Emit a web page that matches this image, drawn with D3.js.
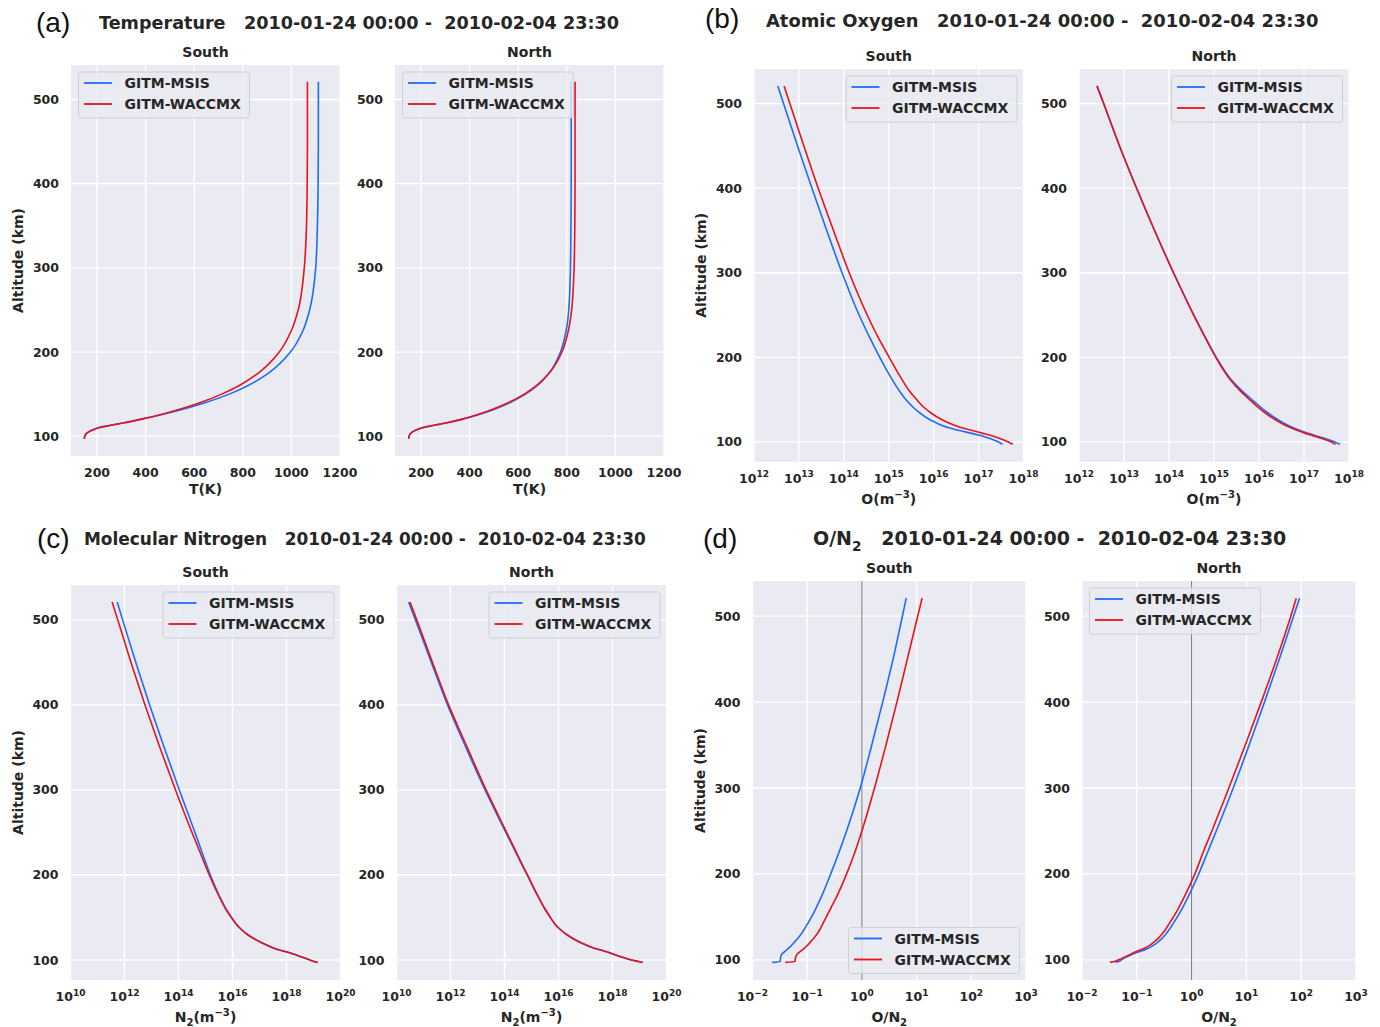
<!DOCTYPE html>
<meta charset="utf-8">
<style>
  body { margin: 0; background: #fff; }
  text { font-family: "DejaVu Sans", sans-serif; fill: #262626; }
  .tick { font-size: 12.5px; font-weight: bold; }
  .lab { font-size: 14px; font-weight: bold; }
  .title { font-weight: bold; }
  .letter { font-family: "Liberation Sans", Arial, sans-serif; font-size: 28px; fill: #111; }
  .leg { font-size: 14px; font-weight: bold; }
</style>
<body>
<script src="https://d3js.org/d3.v7.min.js"></script>
<script>

// altitude grid (km)
var alt = [97, 98, 100, 103, 106, 108, 110, 113, 116, 120, 125, 130, 135, 140, 150, 160, 175, 200, 225, 250, 300, 350, 400, 450, 500, 521];

// (a) temperature, K
var tSouthMsis   = [148, 148, 150, 155, 170, 185, 205, 255, 310, 375, 456, 527, 591, 648, 744, 820, 906, 996, 1047, 1075, 1100, 1107, 1110, 1111, 1111, 1111];
var tSouthWaccmx = [148, 148, 150, 155, 172, 188, 208, 258, 315, 380, 452, 516, 574, 626, 713, 784, 864, 950, 999, 1028, 1053, 1062, 1065, 1066, 1066, 1066];
var tNorthMsis   = [150, 150, 151, 156, 170, 185, 205, 255, 310, 370, 430, 483, 528, 567, 630, 678, 727, 774, 797, 808, 815, 817, 818, 818, 818, 818];
var tNorthWaccmx = [150, 150, 151, 156, 170, 185, 205, 252, 305, 365, 424, 476, 521, 561, 625, 675, 728, 780, 806, 820, 830, 833, 834, 834, 834, 834];

// (b) atomic oxygen, log10(m^-3)
var oSouthMsis   = [17.53, 17.5, 17.43, 17.3, 17.13, 17.0, 16.85, 16.6, 16.38, 16.16, 15.96, 15.8, 15.67, 15.56, 15.38, 15.24, 15.06, 14.8, 14.56, 14.34, 13.96, 13.62, 13.29, 12.97, 12.66, 12.53];
var oSouthWaccmx = [17.76, 17.72, 17.65, 17.52, 17.36, 17.24, 17.1, 16.88, 16.67, 16.45, 16.23, 16.06, 15.92, 15.8, 15.62, 15.46, 15.28, 15.01, 14.75, 14.52, 14.12, 13.77, 13.43, 13.11, 12.8, 12.67];
var oNorthMsis   = [17.8, 17.75, 17.68, 17.52, 17.34, 17.21, 17.09, 16.93, 16.79, 16.63, 16.46, 16.31, 16.18, 16.06, 15.84, 15.63, 15.36, 15.05, 14.79, 14.55, 14.1, 13.68, 13.28, 12.9, 12.55, 12.4];
var oNorthWaccmx = [17.7, 17.66, 17.6, 17.45, 17.28, 17.15, 17.03, 16.87, 16.73, 16.57, 16.4, 16.25, 16.12, 16.0, 15.79, 15.59, 15.34, 15.04, 14.79, 14.55, 14.1, 13.68, 13.28, 12.9, 12.55, 12.4];

// (c) molecular nitrogen, log10(m^-3)
var nSouthMsis   = [19.15, 19.05, 18.86, 18.62, 18.36, 18.17, 17.95, 17.62, 17.38, 17.1, 16.8, 16.55, 16.36, 16.2, 15.96, 15.76, 15.52, 15.18, 14.89, 14.61, 14.03, 13.47, 12.93, 12.42, 11.93, 11.73];
var nSouthWaccmx = [19.15, 19.05, 18.86, 18.62, 18.36, 18.17, 17.95, 17.62, 17.38, 17.1, 16.8, 16.55, 16.36, 16.2, 15.96, 15.75, 15.5, 15.14, 14.82, 14.5, 13.89, 13.31, 12.76, 12.24, 11.75, 11.54];
var nNorthMsis   = [19.12, 19.0, 18.7, 18.4, 18.12, 17.95, 17.75, 17.42, 17.15, 16.85, 16.55, 16.3, 16.1, 15.93, 15.7, 15.5, 15.24, 14.84, 14.44, 14.05, 13.28, 12.57, 11.89, 11.29, 10.7, 10.45];
var nNorthWaccmx = [19.12, 19.0, 18.7, 18.4, 18.12, 17.95, 17.75, 17.42, 17.15, 16.85, 16.55, 16.3, 16.1, 15.93, 15.7, 15.5, 15.24, 14.85, 14.46, 14.08, 13.32, 12.62, 11.93, 11.33, 10.75, 10.5];

// (d) O/N2 ratio, log10
var rSouthMsis   = [-1.64, -1.5, -1.49, -1.485, -1.47, -1.44, -1.4, -1.35, -1.3, -1.24, -1.17, -1.11, -1.06, -1.01, -0.92, -0.84, -0.73, -0.57, -0.42, -0.28, -0.03, 0.18, 0.38, 0.57, 0.74, 0.81];
var rSouthWaccmx = [-1.4, -1.22, -1.22, -1.21, -1.19, -1.16, -1.12, -1.06, -1.01, -0.95, -0.88, -0.82, -0.77, -0.73, -0.65, -0.57, -0.45, -0.28, -0.13, 0.0, 0.23, 0.44, 0.64, 0.83, 1.02, 1.1];
var rNorthMsis   = [-1.39, -1.33, -1.28, -1.2, -1.1, -1.02, -0.93, -0.81, -0.72, -0.63, -0.54, -0.47, -0.41, -0.36, -0.26, -0.17, -0.05, 0.13, 0.29, 0.45, 0.76, 1.05, 1.33, 1.6, 1.86, 1.97];
var rNorthWaccmx = [-1.49, -1.41, -1.33, -1.23, -1.13, -1.07, -1.0, -0.88, -0.79, -0.7, -0.61, -0.54, -0.48, -0.43, -0.33, -0.24, -0.12, 0.06, 0.21, 0.37, 0.68, 0.98, 1.27, 1.55, 1.81, 1.91];

var seriesNames = ["GITM-MSIS", "GITM-WACCMX"];
var colors = ["#1f6bff", "#e8131b"];
var altTicks = [100, 200, 300, 400, 500];
var dateText = "2010-01-24 00:00 -\u00a0\u00a02010-02-04 23:30";

var svg = d3.select("body").append("svg")
  .attr("width", 1380)
  .attr("height", 1027);

svg.append("rect").attr("width", 1380).attr("height", 1027).attr("fill", "#fff");

// write text with sub/superscript pieces: parts = [[str, "sup"|"sub"|null], ...]
function rich(t, parts, size) {
  var shift = 0;
  parts.forEach(function (p) {
    var target = p[1] === "sup" ? -0.42 * size : p[1] === "sub" ? 0.3 * size : 0;
    var ts = t.append("tspan").text(p[0]).attr("dy", target - shift);
    if (p[1]) ts.attr("font-size", (size * 0.72) + "px");
    shift = target;
  });
}

function powLabel(e) {
  return [["10", null], [(e < 0 ? "\u2212" : "") + Math.abs(e), "sup"]];
}

function subplot(o) {
  var x = o.log ? d3.scaleLog().domain(o.xdom) : d3.scaleLinear().domain(o.xdom);
  x.range([o.x0, o.x1]);
  var y = d3.scaleLinear().domain([76.5, 541]).range([o.y1, o.y0]);
  var g = svg.append("g");

  g.append("rect")
    .attr("x", o.x0).attr("y", o.y0)
    .attr("width", o.x1 - o.x0).attr("height", o.y1 - o.y0)
    .attr("fill", "#eaeaf2");

  // grid
  g.selectAll(".gx").data(o.xticks).enter().append("line")
    .attr("x1", function (d) { return x(d); }).attr("x2", function (d) { return x(d); })
    .attr("y1", o.y0).attr("y2", o.y1)
    .attr("stroke", "#fff").attr("stroke-width", 1.3);
  g.selectAll(".gy").data(altTicks).enter().append("line")
    .attr("x1", o.x0).attr("x2", o.x1)
    .attr("y1", function (d) { return y(d); }).attr("y2", function (d) { return y(d); })
    .attr("stroke", "#fff").attr("stroke-width", 1.3);

  // tick labels
  g.selectAll(".ty").data(altTicks).enter().append("text")
    .attr("class", "tick")
    .attr("x", o.x0 - 12).attr("y", function (d) { return y(d); })
    .attr("dy", "0.36em")
    .attr("text-anchor", "end")
    .text(function (d) { return d; });

  o.xticks.forEach(function (d) {
    var t = g.append("text").attr("class", "tick")
      .attr("x", x(d)).attr("y", o.y1 + 21)
      .attr("text-anchor", "middle");
    if (o.log) rich(t, powLabel(Math.round(Math.log10(d))), 12.5);
    else t.text(d);
  });

  // x label
  var xl = g.append("text").attr("class", "lab")
    .attr("x", (o.x0 + o.x1) / 2).attr("y", o.y1 + (o.log ? 42 : 38))
    .attr("text-anchor", "middle");
  rich(xl, o.xlabel, 14);

  if (o.ylabel) {
    g.append("text").attr("class", "lab")
      .attr("transform", "translate(" + (o.x0 - 53) + "," + ((o.y0 + o.y1) / 2) + ") rotate(-90)")
      .attr("text-anchor", "middle")
      .attr("dy", "0.36em")
      .text("Altitude (km)");
  }

  // side title
  g.append("text").attr("class", "lab")
    .attr("x", (o.x0 + o.x1) / 2).attr("y", o.y0 - 8.5)
    .attr("text-anchor", "middle")
    .text(o.side);

  if (o.vline) {
    g.append("line")
      .attr("x1", x(1)).attr("x2", x(1))
      .attr("y1", o.y0).attr("y2", o.y1)
      .attr("stroke", "#777").attr("stroke-width", 1);
  }

  // profiles
  var line = d3.line()
    .x(function (d) { return x(d[0]); })
    .y(function (d) { return y(d[1]); })
    .curve(d3.curveMonotoneY);
  o.series.forEach(function (vals, i) {
    var pts = vals.map(function (v, k) { return [o.log ? Math.pow(10, v) : v, alt[k]]; });
    g.append("path")
      .attr("d", line(pts))
      .attr("fill", "none")
      .attr("stroke", colors[i])
      .attr("stroke-width", 1.6);
  });

  // legend
  var lw = 171, lh = 46;
  var lx = o.legend[1] === "l" ? o.x0 + 7 : o.x1 - 7 - lw;
  var ly = o.legend[0] === "u" ? o.y0 + 6.5 : o.y1 - 7 - lh;
  var lg = g.append("g").attr("transform", "translate(" + lx + "," + ly + ")");
  lg.append("rect")
    .attr("x", 0.5).attr("y", 0.5).attr("width", lw).attr("height", lh)
    .attr("rx", 3)
    .attr("fill", "#eaeaf2").attr("fill-opacity", 0.8)
    .attr("stroke", "#d0d0d0");
  seriesNames.forEach(function (name, i) {
    var yy = 11.5 + i * 21;
    lg.append("line")
      .attr("x1", 6).attr("x2", 34).attr("y1", yy).attr("y2", yy)
      .attr("stroke", colors[i]).attr("stroke-width", 1.8);
    lg.append("text").attr("class", "leg")
      .attr("x", 46.5).attr("y", yy).attr("dy", "0.36em")
      .text(name);
  });
}

function header(letter, lx, ly, parts, tx, ty, size) {
  svg.append("text").attr("class", "letter").attr("x", lx).attr("y", ly).text(letter);
  var t = svg.append("text").attr("class", "title").attr("x", tx).attr("y", ty)
    .style("font-size", size + "px");
  rich(t, parts, size);
}

var tempTicks = [200, 400, 600, 800, 1000, 1200];
var oTicks = [1e12, 1e13, 1e14, 1e15, 1e16, 1e17, 1e18];
var nTicks = [1e10, 1e12, 1e14, 1e16, 1e18, 1e20];
var rTicks = [1e-2, 1e-1, 1, 1e1, 1e2, 1e3];

var oLabel = [["O(m", null], ["\u22123", "sup"], [")", null]];
var nLabel = [["N", null], ["2", "sub"], ["(m", null], ["\u22123", "sup"], [")", null]];
var rLabel = [["O/N", null], ["2", "sub"]];

// (a)
header("(a)", 36, 32, [["Temperature\u00a0\u00a0\u00a0" + dateText, null]], 99, 29, 17.6);
subplot({ x0: 71, x1: 340, y0: 65, y1: 456, xdom: [93, 1200], xticks: tempTicks, xlabel: [["T(K)", null]],
  ylabel: true, side: "South", series: [tSouthMsis, tSouthWaccmx], legend: "ul" });
subplot({ x0: 395, x1: 664, y0: 65, y1: 456, xdom: [93, 1200], xticks: tempTicks, xlabel: [["T(K)", null]],
  side: "North", series: [tNorthMsis, tNorthWaccmx], legend: "ul" });

// (b)
header("(b)", 705, 28, [["Atomic Oxygen\u00a0\u00a0\u00a0" + dateText, null]], 766, 27, 17.9);
subplot({ x0: 754, x1: 1023.5, y0: 69, y1: 461.7, log: true, xdom: [1e12, 1e18], xticks: oTicks, xlabel: oLabel,
  ylabel: true, side: "South", series: [oSouthMsis, oSouthWaccmx], legend: "ur" });
subplot({ x0: 1079, x1: 1349, y0: 69, y1: 461.7, log: true, xdom: [1e12, 1e18], xticks: oTicks, xlabel: oLabel,
  side: "North", series: [oNorthMsis, oNorthWaccmx], legend: "ur" });

// (c)
header("(c)", 37, 548, [["Molecular Nitrogen\u00a0\u00a0\u00a0" + dateText, null]], 84, 544.5, 16.95);
subplot({ x0: 70.5, x1: 340.5, y0: 585, y1: 980, log: true, xdom: [1e10, 1e20], xticks: nTicks, xlabel: nLabel,
  ylabel: true, side: "South", series: [nSouthMsis, nSouthWaccmx], legend: "ur" });
subplot({ x0: 396.5, x1: 666.5, y0: 585, y1: 980, log: true, xdom: [1e10, 1e20], xticks: nTicks, xlabel: nLabel,
  side: "North", series: [nNorthMsis, nNorthWaccmx], legend: "ur" });

// (d)
header("(d)", 703, 548, [["O/N", null], ["2", "sub"], ["\u00a0\u00a0\u00a0" + dateText, null]], 813, 545, 19);
subplot({ x0: 752.5, x1: 1026, y0: 581, y1: 980, log: true, xdom: [1e-2, 1e3], xticks: rTicks, xlabel: rLabel,
  ylabel: true, side: "South", series: [rSouthMsis, rSouthWaccmx], legend: "lr", vline: true });
subplot({ x0: 1082, x1: 1356, y0: 581, y1: 980, log: true, xdom: [1e-2, 1e3], xticks: rTicks, xlabel: rLabel,
  side: "North", series: [rNorthMsis, rNorthWaccmx], legend: "ul", vline: true });

</script>
</body>
